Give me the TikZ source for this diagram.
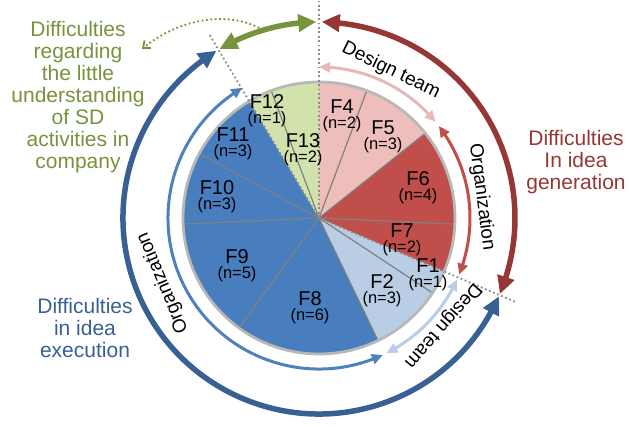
\documentclass[tikz,border=0pt]{standalone}
\usepackage{fontspec}
\setmainfont{Liberation Sans}
\usetikzlibrary{arrows.meta,bending}
\definecolor{rosa}{RGB}{238,190,189}
\definecolor{rojo}{RGB}{192,78,75}
\definecolor{celeste}{RGB}{185,205,229}
\definecolor{azul}{RGB}{72,126,190}
\definecolor{verdeclaro}{RGB}{210,226,172}
\definecolor{oliva}{RGB}{119,147,60}
\definecolor{granate}{RGB}{149,55,53}
\definecolor{marino}{RGB}{56,96,146}
\definecolor{flrosa}{RGB}{232,184,184}
\definecolor{flazul}{RGB}{79,129,189}
\tikzset{
  gruesa/.style={line width=5.5pt,{Triangle[length=18pt,width=17pt,bend]}-{Triangle[length=18pt,width=17pt,bend]}},
  fina/.style={line width=3pt,{Triangle[length=11pt,width=10pt,bend]}-{Triangle[length=11pt,width=10pt,bend]}},
  radio/.style={draw=black!50,line width=1.2pt},
  aro/.style={draw=black!28,line width=2.8pt},
  punteada/.style={draw=black!45,line width=1.8pt,dash pattern=on 1.8pt off 2.6pt},
  etiq/.style={align=center,inner sep=0pt,font=\fontsize{20}{15}\selectfont},
  rotulo/.style={inner sep=0pt,font=\fontsize{19}{20}\selectfont},
  grupo/.style={align=center,inner sep=0pt,font=\fontsize{21}{22}\selectfont},
}
\begin{document}
\begin{tikzpicture}[x=1pt,y=1pt]
  \useasboundingbox (-319,-208) rectangle (310,218);
  % sectores (35 casos en total)
  \foreach \a/\b/\col in {0/2/rosa,2/5/rosa,5/9/rojo,9/11/rojo,11/12/celeste,12/15/celeste,
      15/21/azul,21/26/azul,26/29/azul,29/32/azul,32/33/verdeclaro,33/35/verdeclaro}
    \fill[\col] (0,0) -- ({90-\a*360/35}:136)
      arc[start angle={90-\a*360/35},end angle={90-\b*360/35},radius=136] -- cycle;
  \foreach \k in {2,5,9,12,15,21,26,29,33}
    \draw[radio] (0,0) -- ({90-\k*360/35}:136);
  \draw[aro] (0,0) circle[radius=136];
  % limites de los grupos
  \draw[punteada] (0,0) -- (90:218);
  \draw[punteada] (0,0) -- ({90-32*360/35}:213);
  \draw[punteada] (0,0) -- ({90-11*360/35}:215);
  \foreach \nom/\n/\x/\y in {F4/2/23/102,F5/3/64/81.5,F6/4/99/30.5,F7/2/83/-21.5,F1/1/109/-57,
      F2/3/63/-73,F8/6/-9/-90,F9/5/-82/-47.5,F10/3/-102/21.5,F11/3/-86/74.5,F12/1/-52/107.5,F13/2/-16/68}
    \node[etiq] (\nom) at (\x,\y) {\nom\\{\fontsize{16.5}{15}\selectfont(n=\n)}};
  % flechas interiores
  \draw[fina,flrosa] (90:151) arc[start angle=90,end angle=39.5,radius=151];
  \draw[fina,rojo] (37.5:151) arc[start angle=37.5,end angle=-22,radius=151];
  \draw[fina,celeste] (-24:151) arc[start angle=-24,end angle=-63.5,radius=151];
  \draw[fina,flazul] (-65:151) arc[start angle=-65,end angle=-239.5,radius=151];
  % flechas exteriores
  \draw[gruesa,oliva] (90.8:196) arc[start angle=90.8,end angle=120.5,radius=196];
  \draw[gruesa,granate] (89.2:196) arc[start angle=89.2,end angle=-22.8,radius=196];
  \draw[gruesa,marino] (-23.5:196) arc[start angle=-23.5,end angle=-238.5,radius=196];
  \node[rotulo,rotate=-26] (dt1) at (64:164) {Design team};
  \node[rotulo,rotate=-82.6] (org1) at (7.4:164) {Organization};
  \node[rotulo,rotate=-131] (dt2) at (-41:164) {Design team};
  \node[rotulo,rotate=112.6] (org2) at (202.6:169) {Organization};
  \node[grupo,text=oliva] (gverde) at (-241,121)
    {Difficulties\\regarding\\the little\\understanding\\of SD\\activities in\\company};
  \node[grupo,text=granate] (grojo) at (257,56) {Difficulties\\In idea\\generation};
  \node[grupo,text=marino] (gazul) at (-234,-110) {Difficulties\\in idea\\execution};
  \coordinate (ini) at (-56,188);
  \coordinate (fin) at (-177,169);
  \draw[oliva,line width=1.8pt,dash pattern=on 1.8pt off 2.6pt,-{Straight Barb[length=6pt,width=10pt]}]
    (ini) .. controls (-90,208) and (-140,200) .. (fin);
\end{tikzpicture}
\end{document}
